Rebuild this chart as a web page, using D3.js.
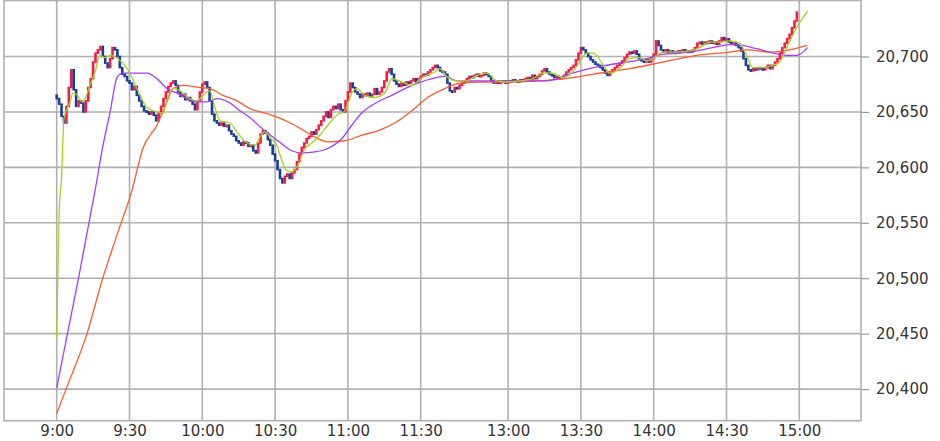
<!DOCTYPE html>
<html><head><meta charset="utf-8">
<script src="https://cdn.jsdelivr.net/npm/d3@7/dist/d3.min.js"></script>
<style>html,body{margin:0;padding:0;background:#fff;}svg{display:block;}</style>
</head><body>
<svg id="chart" width="940" height="441"></svg>
<script>
// ---- data (1-minute bars) ----
const tickIndex  = [0, 30, 60, 90, 120, 150, 186, 216, 246, 276, 306];
const tickLabels = ["9:00","9:30","10:00","10:30","11:00","11:30","13:00","13:30","14:00","14:30","15:00"];
const priceTicks = [20400, 20450, 20500, 20550, 20600, 20650, 20700];
const firstOpen = 20665;
const closes = [
20662,20657,20646,20640,20655,20672,20688,20670,20655,20660,
20658,20650,20660,20672,20680,20695,20703,20706,20709,20700,
20694,20690,20698,20708,20706,20700,20690,20684,20682,20678,
20676,20670,20673,20665,20660,20655,20651,20650,20648,20650,
20647,20642,20649,20655,20662,20668,20673,20676,20678,20674,
20668,20664,20666,20661,20663,20660,20657,20652,20660,20668,
20675,20677,20672,20660,20648,20642,20640,20638,20640,20637,
20638,20633,20630,20628,20624,20622,20620,20623,20622,20619,
20620,20615,20613,20622,20630,20633,20631,20625,20620,20612,
20606,20598,20590,20586,20592,20594,20590,20595,20598,20605,
20612,20618,20622,20626,20628,20632,20630,20634,20638,20642,
20646,20650,20645,20652,20655,20653,20657,20652,20650,20660,
20668,20676,20672,20668,20666,20663,20666,20665,20667,20664,
20666,20671,20666,20668,20672,20678,20686,20689,20684,20678,
20675,20673,20676,20674,20677,20676,20678,20680,20677,20680,
20682,20684,20683,20686,20688,20690,20692,20690,20687,20686,
20684,20676,20669,20668,20672,20671,20674,20676,20678,20680,
20682,20681,20683,20684,20682,20683,20685,20684,20682,20678,
20676,20678,20676,20677,20678,20676,20678,20677,20679,20678,
20677,20679,20678,20680,20681,20679,20683,20680,20682,20684,
20687,20689,20686,20684,20683,20681,20682,20680,20681,20683,
20686,20688,20690,20692,20697,20703,20708,20706,20703,20700,
20697,20695,20693,20692,20690,20688,20685,20683,20686,20688,
20690,20692,20694,20696,20699,20702,20704,20703,20705,20702,
20698,20696,20695,20697,20695,20698,20702,20714,20710,20706,
20704,20706,20703,20705,20704,20703,20705,20704,20706,20704,
20705,20704,20706,20708,20712,20713,20711,20713,20712,20714,
20712,20713,20711,20714,20717,20715,20716,20713,20711,20712,
20710,20708,20705,20698,20692,20688,20687,20689,20688,20690,
20689,20688,20690,20692,20689,20692,20695,20698,20703,20708,
20712,20716,20720,20726,20732,20740
];
// moving-average lines, sampled as [bar index, value]
const maShort = [[0,20446],[1,20560],[2,20590],[3,20644],[5.5,20659],[6.7,20667],[8.2,20666],[10.4,20659],[11.7,20662],[13.7,20674],[15.8,20686],[17.8,20701],[19.9,20699],[22,20701],[25.2,20698],[28.1,20692],[31,20681],[33.5,20669],[37.2,20654],[41.3,20650],[43.8,20649],[45.8,20663],[47.9,20671],[50.8,20669],[54.1,20663],[57.8,20660],[60.3,20665],[63.1,20669],[65.2,20654],[67.3,20642],[71.4,20640],[74.3,20632],[78.4,20622],[81.7,20620],[83.7,20627],[85.8,20632],[88.3,20626],[90.7,20620],[92.8,20606],[94.8,20597],[96.9,20596],[99.4,20602],[102.3,20617],[105.1,20622],[108.4,20629],[111.7,20638],[115.4,20647],[118.7,20651],[121.6,20667],[123.7,20671],[127,20665],[131.1,20663],[135.2,20667],[138.1,20680],[142.2,20677],[146.3,20674],[150.5,20681],[155.8,20686],[157.9,20689],[161.1,20681],[164.9,20678],[169,20678],[171.4,20681],[177.2,20685],[181.3,20678],[185.5,20677],[190.8,20678],[196.2,20680],[200.3,20685],[204.4,20685],[208.5,20681],[212.2,20685],[215.5,20695],[218.4,20703],[221.3,20703],[225,20693],[227.9,20685],[232,20689],[236.1,20698],[240.1,20699],[243.1,20696],[246.4,20699],[249.7,20704],[255.5,20704],[260.8,20705],[264.9,20708],[269,20713],[273.2,20713],[277.3,20714],[281.4,20712],[284.7,20699],[286.8,20690],[290.9,20690],[295,20692],[297.9,20695],[300.8,20708],[304.9,20726],[309.4,20741]];
const maMid = [[0,20401],[8.8,20498],[15.8,20579],[19.1,20620],[22,20650],[24,20674],[24.8,20681],[27.3,20685],[31.4,20685],[37.2,20685],[41.3,20680],[45.4,20671],[49.6,20667],[53.7,20662],[57.8,20659],[61.9,20659],[66,20662],[71.4,20658],[75.5,20651],[79.6,20645],[84.6,20635],[91.1,20624],[96.9,20615],[101,20613],[106.4,20614],[111.7,20617],[117.5,20626],[121.6,20638],[125.7,20649],[132.3,20659],[138.1,20665],[143.5,20671],[148.8,20676],[154.6,20680],[159.9,20682],[164.9,20678],[171.4,20678],[178.4,20678],[185.5,20678],[192,20678],[201.9,20678],[212.6,20685],[223.8,20691],[234.9,20695],[243.1,20698],[249.7,20702],[256.7,20703],[263.7,20705],[270.3,20708],[278.5,20711],[282.6,20710],[288.4,20707],[293.7,20704],[300.8,20701],[304.9,20701],[309.4,20708]];
const maLong = [[0,20378],[4.2,20402],[12.5,20450],[18.7,20498],[25,20540],[31,20579],[35.5,20617],[41.3,20638],[45.4,20659],[47.9,20671],[52,20674],[59,20672],[63.1,20671],[68.5,20665],[74.3,20660],[79.6,20653],[85.8,20649],[91.1,20645],[98.1,20638],[105.1,20629],[111.7,20623],[118.7,20624],[125.7,20629],[132.3,20633],[139.3,20640],[146.3,20651],[152.9,20663],[159.9,20671],[166.1,20676],[174.3,20677],[185.5,20677],[199,20678],[212.6,20681],[226.6,20686],[236.1,20689],[249.7,20695],[263.7,20701],[277.3,20704],[284.3,20706],[293.7,20704],[302,20706],[309.4,20710]];

// ---- drawing ----
const svg = d3.select("#chart");
const L = 4, R = 861, T = 0.5, B = 420.7;
const x = d3.scaleLinear().domain([0, 306]).range([56.7, 799.3]);
const y = d3.scaleLinear().domain([20371.5, 20750.5]).range([B, T]);
const gridColor = "#b0b0b0";

// grid
svg.append("g").selectAll("line").data(priceTicks).join("line")
  .attr("x1", L).attr("x2", R).attr("y1", d => y(d)).attr("y2", d => y(d))
  .attr("stroke", gridColor).attr("stroke-width", 1.6);
svg.append("g").selectAll("line").data(tickIndex).join("line")
  .attr("x1", d => x(d)).attr("x2", d => x(d)).attr("y1", T).attr("y2", B)
  .attr("stroke", gridColor).attr("stroke-width", 1.6);
svg.append("rect").attr("x", L).attr("y", T).attr("width", R - L).attr("height", B - T)
  .attr("fill", "none").attr("stroke", gridColor).attr("stroke-width", 1.6);

// y axis on right
const yAxis = d3.axisRight(y).tickValues(priceTicks).tickSize(8).tickPadding(7)
  .tickFormat(d3.format(","));
const gy = svg.append("g").attr("transform", `translate(${R},0)`).call(yAxis);
gy.select(".domain").remove();
gy.selectAll(".tick line").attr("stroke", "#999").attr("stroke-width", 1.2);
gy.selectAll(".tick text").attr("fill", "#333").style("font-family", "DejaVu Sans")
  .style("font-size", "15px");

// x axis at bottom
const xAxis = d3.axisBottom(x).tickValues(tickIndex).tickSize(0).tickPadding(5)
  .tickFormat((d, i) => tickLabels[i]);
const gx = svg.append("g").attr("transform", `translate(0,${B})`).call(xAxis);
gx.select(".domain").remove();
gx.selectAll(".tick text").attr("fill", "#333").style("font-family", "DejaVu Sans")
  .style("font-size", "15px");

// candles
const bars = closes.map((c, i) => ({ i, o: i === 0 ? firstOpen : closes[i - 1], c }));
svg.append("g").selectAll("rect").data(bars).join("rect")
  .attr("x", d => x(d.i) - 1.3)
  .attr("width", 2.6)
  .attr("y", d => y(Math.max(d.o, d.c)) - 0.8)
  .attr("height", d => Math.max(3, Math.abs(y(d.o) - y(d.c)) + 1.6))
  .attr("fill", d => d.c >= d.o ? "#ff1744" : "#163d9c");

// moving averages
const line = d3.line().x(d => x(d[0])).y(d => y(d[1])).curve(d3.curveMonotoneX);
[[maLong, "#ff5a2a"], [maMid, "#a33cff"], [maShort, "#a4d41c"]].forEach(([data, col]) => {
  svg.append("path").datum(data).attr("d", line).attr("fill", "none")
    .attr("stroke", col).attr("stroke-width", 1.3);
});
</script>
</body></html>
